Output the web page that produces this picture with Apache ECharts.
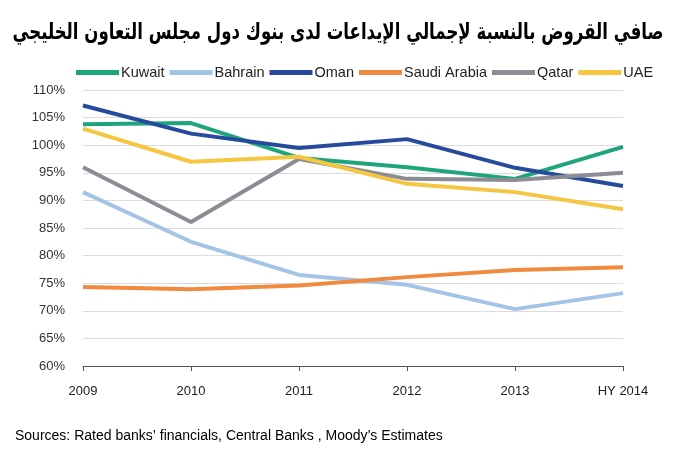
<!DOCTYPE html>
<html>
<head>
<meta charset="utf-8">
<script src="https://cdn.jsdelivr.net/npm/echarts@6/dist/echarts.min.js"></script>
<style>
  html, body { margin: 0; padding: 0; background: #fff; }
  #chart { width: 674px; height: 450px; }
</style>
</head>
<body>
<div id="chart"></div>
<script>
// categories and series values (% loans / deposits)
var years = ["2009", "2010", "2011", "2012", "2013", "HY 2014"];
var kuwait = [103.8, 104.0, 97.7, 96.0, 93.9, 99.7];
var bahrain = [91.5, 82.5, 76.5, 74.7, 70.3, 73.2];
var oman = [107.2, 102.1, 99.5, 101.1, 95.9, 92.6];
var saudi = [74.3, 73.9, 74.6, 76.1, 77.4, 77.9];
var qatar = [96.0, 86.1, 97.5, 93.9, 93.7, 95.0];
var uae = [103.0, 97.0, 97.9, 93.0, 91.5, 88.4];

var titleText = "صافي القروض بالنسبة لإجمالي الإيداعات لدى بنوك دول مجلس التعاون الخليجي";

var chart = echarts.init(document.getElementById("chart"));

function line(name, data, color) {
  return {
    name: name,
    type: "line",
    data: data,
    symbol: "none",
    lineStyle: { color: color, width: 4 },
    itemStyle: { color: color },
    animation: false
  };
}

chart.setOption({
  backgroundColor: "#fff",
  textStyle: { fontFamily: "Liberation Sans, Arial, sans-serif" },
  title: {
    text: "Sources: Rated banks’ financials, Central Banks , Moody’s Estimates",
    left: 10,
    top: 424,
    textStyle: { fontSize: 14, fontWeight: "normal", color: "#000" }
  },
  // arabic title squeezed horizontally so it fits like the original
  graphic: [{
    type: "text",
    x: 338,
    y: 33,
    scaleX: 0.72,
    style: {
      text: titleText,
      align: "center",
      verticalAlign: "middle",
      fill: "#000",
      font: "bold 23px 'DejaVu Sans', sans-serif"
    }
  }],
  legend: {
    top: 60,
    left: 71,
    itemWidth: 43,
    itemHeight: 5,
    itemGap: 5,
    icon: "rect",
    textStyle: { fontSize: 14.5, color: "#222", padding: [0, 0, 0, -3] },
    data: ["Kuwait", "Bahrain", "Oman", "Saudi Arabia", "Qatar", "UAE"]
  },
  grid: { left: 83, right: 51, top: 90, bottom: 84 },
  xAxis: {
    type: "category",
    data: years,
    boundaryGap: false,
    axisLine: { lineStyle: { color: "#555" } },
    axisTick: { show: true, lineStyle: { color: "#555" } },
    axisLabel: { color: "#222", fontSize: 13, margin: 19 }
  },
  yAxis: {
    type: "value",
    min: 60,
    max: 110,
    interval: 5,
    axisLine: { show: false },
    axisTick: { show: false },
    axisLabel: { color: "#333", fontSize: 13, margin: 18, formatter: "{value}%" },
    splitLine: { lineStyle: { color: "#dcdcdc" } }
  },
  series: [
    line("Kuwait", kuwait, "#1fa57c"),
    line("Bahrain", bahrain, "#a3c4e4"),
    line("Oman", oman, "#264b9c"),
    line("Saudi Arabia", saudi, "#ef8a3e"),
    line("Qatar", qatar, "#8b8c94"),
    line("UAE", uae, "#f5c640")
  ]
});
</script>
</body>
</html>
